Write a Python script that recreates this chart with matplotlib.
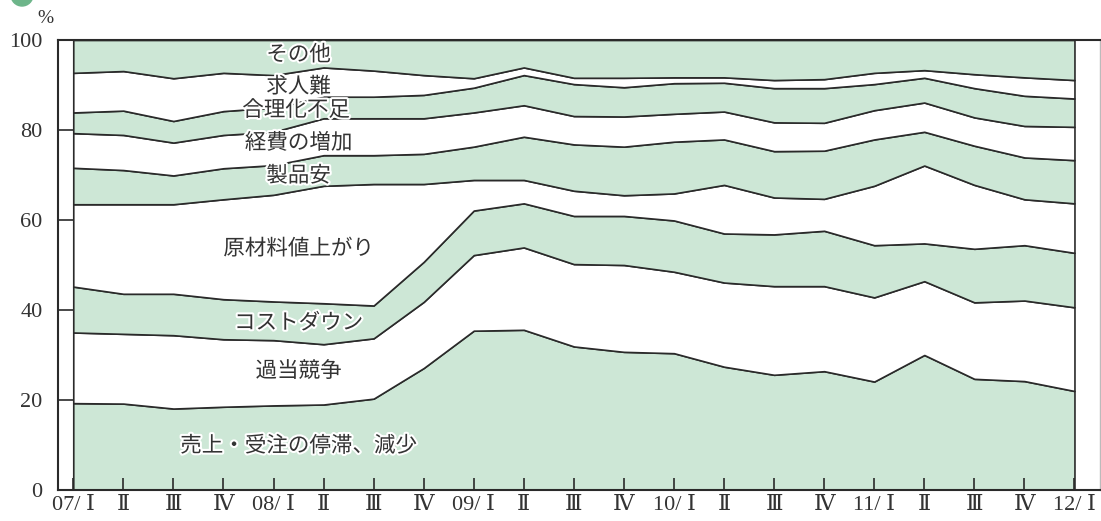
import numpy as np
import matplotlib.pyplot as plt
from matplotlib import patheffects
from matplotlib.patches import Circle

# 四半期ラベル (07/I 〜 12/I)
quarters = ["07/ Ⅰ", "Ⅱ", "Ⅲ", "Ⅳ", "08/ Ⅰ", "Ⅱ", "Ⅲ", "Ⅳ", "09/ Ⅰ", "Ⅱ", "Ⅲ",
            "Ⅳ", "10/ Ⅰ", "Ⅱ", "Ⅲ", "Ⅳ", "11/ Ⅰ", "Ⅱ", "Ⅲ", "Ⅳ", "12/ Ⅰ"]

# 各項目の構成比 (%), 下から順に積み上げ
uriage = [19.3, 19.2, 18.1, 18.5, 18.8, 19.0, 20.3, 27.1, 35.4, 35.6, 31.9,
          30.7, 30.4, 27.4, 25.6, 26.4, 24.1, 30.0, 24.7, 24.2, 22.0]
kato = [15.7, 15.5, 16.3, 15.0, 14.5, 13.4, 13.4, 14.7, 16.8, 18.3, 18.3,
        19.3, 18.1, 18.7, 19.7, 18.9, 18.7, 16.4, 17.0, 17.9, 18.6]
costdown = [10.2, 8.9, 9.2, 8.9, 8.6, 9.1, 7.3, 8.9, 9.9, 9.8, 10.7,
            10.9, 11.4, 10.9, 11.5, 12.3, 11.6, 8.4, 11.9, 12.3, 12.1]
genzairyo = [18.3, 19.9, 19.9, 22.2, 23.7, 26.1, 27.0, 17.3, 6.8, 5.2, 5.6,
             4.6, 6.0, 10.8, 8.2, 7.1, 13.2, 17.3, 14.2, 10.2, 11.0]
seihinyasu = [8.1, 7.6, 6.4, 6.9, 6.6, 6.8, 6.4, 6.7, 7.4, 9.6, 10.3,
              10.8, 11.5, 10.1, 10.3, 10.7, 10.3, 7.5, 8.7, 9.3, 9.6]
keihi = [7.7, 7.8, 7.3, 7.4, 7.4, 8.2, 8.2, 7.9, 7.6, 7.0, 6.3,
         6.7, 6.2, 6.2, 6.4, 6.2, 6.5, 6.5, 6.3, 7.0, 7.4]
gorika = [4.6, 5.4, 4.8, 5.3, 5.4, 4.8, 4.8, 5.2, 5.5, 6.7, 7.1,
          6.5, 6.8, 6.4, 7.6, 7.7, 5.8, 5.5, 6.5, 6.7, 6.3]
kyujin = [8.8, 8.8, 9.5, 8.5, 7.2, 6.5, 5.8, 4.4, 2.1, 1.7, 1.4,
          2.1, 1.3, 1.2, 1.8, 2.0, 2.5, 1.7, 3.1, 4.1, 4.1]
sonota = [7.3, 6.9, 8.5, 7.3, 7.8, 6.1, 6.8, 7.8, 8.5, 6.1, 8.4,
          8.4, 8.3, 8.3, 8.9, 8.7, 7.3, 6.7, 7.6, 8.3, 8.9]

series = [uriage, kato, costdown, genzairyo, seihinyasu, keihi, gorika, kyujin, sonota]
names = ["売上・受注の停滞、減少", "過当競争", "コストダウン", "原材料値上がり", "製品安",
         "経費の増加", "合理化不足", "求人難", "その他"]
# ラベル位置 (x: 四半期インデックス, y: %)
label_x = [4.5, 4.5, 4.5, 4.5, 4.5, 4.5, 4.45, 4.5, 4.5]
label_y = [9.8, 26.4, 37.1, 53.6, 69.8, 77.1, 84.4, 89.6, 96.7]

green = "#cde7d6"
colors = [green if i % 2 == 0 else "white" for i in range(len(series))]
jp = ["Noto Sans CJK JP", "DejaVu Sans"]
num = ["Liberation Serif", "DejaVu Serif", "Noto Sans CJK JP"]

fig = plt.figure(figsize=(11.01, 5.21), dpi=100)
ax = fig.add_axes([58 / 1101, 31 / 521, 1042 / 1101, 450 / 521])

x = np.arange(len(quarters))
ax.stackplot(x, *series, colors=colors, edgecolor="#2a2a2a", linewidth=1.2)

for name, lx, ly in zip(names, label_x, label_y):
    ax.text(lx, ly, name, ha="center", va="center", fontsize=15.5, color="#333333",
            family=jp, path_effects=[patheffects.withStroke(linewidth=3, foreground="white")])

ax.set_xlim(-0.305, 20.51)
ax.set_ylim(0, 100)
ax.set_xticks(x)
ax.set_xticklabels(quarters, family=num, fontsize=16, color="#333333")
ax.set_yticks([0, 20, 40, 60, 80, 100])
ax.set_yticklabels(["0", "20", "40", "60", "80", "100"], family=num, fontsize=16, color="#333333")
ax.tick_params(axis="x", direction="in", length=8.6, width=1.2, pad=4, color="#2a2a2a")
ax.tick_params(axis="y", direction="in", length=10.8, width=1.2, pad=11, color="#2a2a2a")

for s in ["left", "top", "bottom"]:
    ax.spines[s].set_linewidth(1.5)
    ax.spines[s].set_color("#2a2a2a")
ax.spines["right"].set_color("#bbbbbb")
ax.spines["right"].set_linewidth(1)

ax.text(-0.56, 104.8, "%", ha="center", va="center", fontsize=14, family=num,
        color="#333333", clip_on=False)

# 左上の丸い飾り
fig.patches.append(Circle((22, 526), 11, transform=None, color="#6db58a", zorder=5))

fig.savefig("out.png", dpi=100)
